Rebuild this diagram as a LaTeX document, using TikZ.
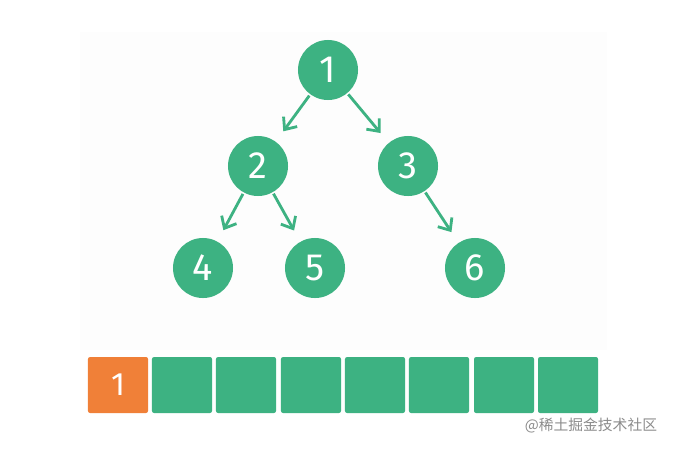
\documentclass[tikz,border=0pt]{standalone}
\usepackage{fontspec}
\setmainfont{Fira Sans}
\newfontfamily\cjk{Noto Sans CJK SC}
\usetikzlibrary{arrows.meta}

\definecolor{treegreen}{RGB}{61,178,130}
\definecolor{heaporange}{RGB}{240,128,56}
\definecolor{paper}{RGB}{253,253,253}

\tikzset{
    treenode/.style={circle, fill=treegreen, minimum size=1.5cm, inner sep=0pt,
        text=white, font=\fontsize{27}{30}\selectfont},
    treearrow/.style={draw=treegreen, line width=2pt, -{Straight Barb[length=7pt,width=12pt]},
        shorten <=1pt, shorten >=9pt},
    cell/.style={rectangle, rounded corners=1.5pt, fill=treegreen, minimum width=1.5cm,
        minimum height=1.4cm, inner sep=0pt, text=white, font=\fontsize{23}{26}\selectfont}
}

\begin{document}
\begin{tikzpicture}[x=0.025cm, y=-0.025cm]

        \useasboundingbox (0,0) rectangle (676,448);
        \fill[white] (0,0) rectangle (676,448);
        \fill[paper] (80,32) rectangle (607,350);

        % tree
        \node[treenode] (n1) at (328,70) {1};
        \node[treenode] (n2) at (258,166) {2};
        \node[treenode] (n3) at (408,166) {3};
        \node[treenode] (n4) at (203,268) {4};
        \node[treenode] (n5) at (315,268) {5};
        \node[treenode] (n6) at (475,268) {6};

        \draw[treearrow] (n1) -- (n2);
        \draw[treearrow] (n1) -- (n3);
        \draw[treearrow] (n2) -- (n4);
        \draw[treearrow] (n2) -- (n5);
        \draw[treearrow] (n3) -- (n6);

        % array
        \node[cell, fill=heaporange] (a1) at (118,385) {1};
        \foreach \i/\x in {2/182, 3/246, 4/311, 5/375, 6/439, 7/504, 8/568}
            \node[cell] (a\i) at (\x,385) {};

        \node[text=black!45, font=\cjk\fontsize{10.5}{12}\selectfont, anchor=east] (mark) at (662,426) {@稀土掘金技术社区};

\end{tikzpicture}
\end{document}
